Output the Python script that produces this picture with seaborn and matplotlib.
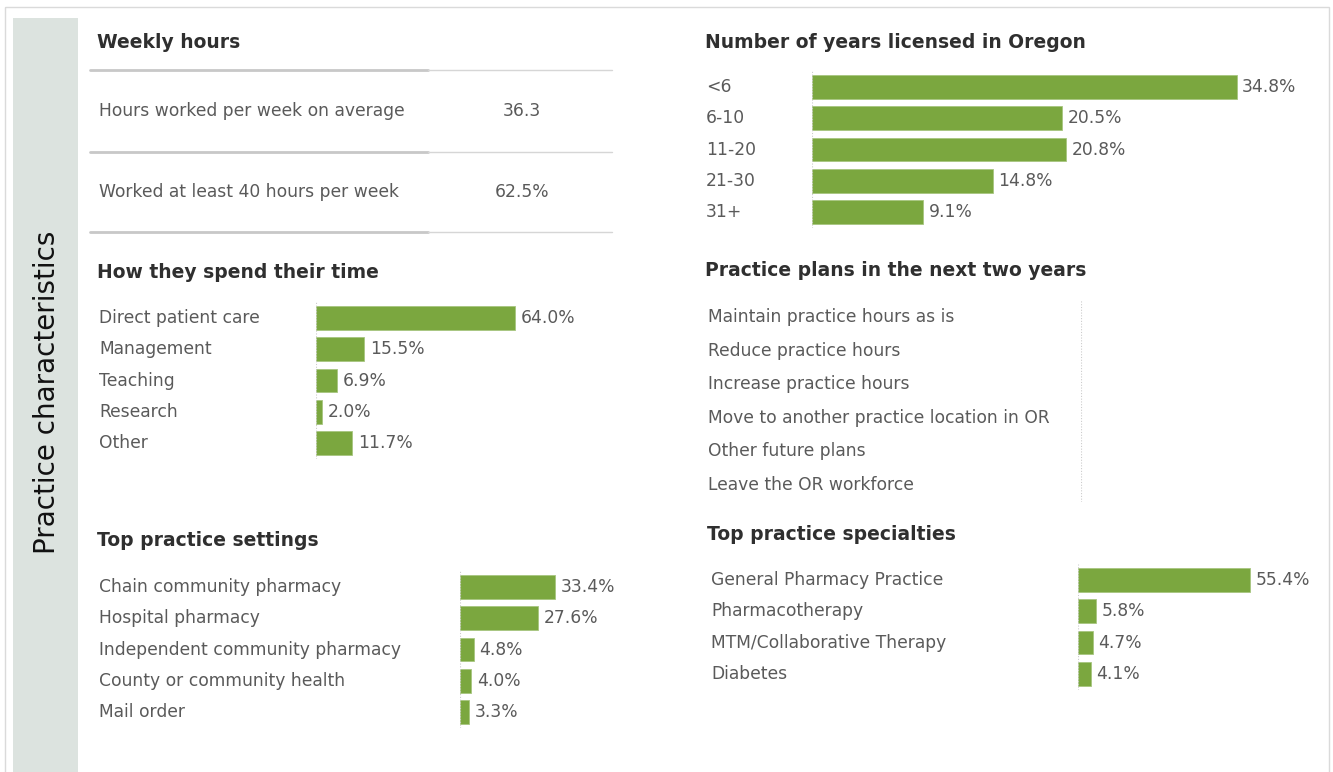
import matplotlib
matplotlib.use("Agg")
import matplotlib.pyplot as plt
import matplotlib.transforms as mtransforms
from matplotlib.patches import Rectangle
import seaborn as sns
import pandas as pd

# Data
weekly_labels = ["Hours worked per week on average", "Worked at least 40 hours per week"]
weekly_values = ["36.3", "62.5%"]

time_cats = ["Direct patient care", "Management", "Teaching", "Research", "Other"]
time_pct = [64.0, 15.5, 6.9, 2.0, 11.7]

setting_cats = ["Chain community pharmacy", "Hospital pharmacy",
                "Independent community pharmacy", "County or community health", "Mail order"]
setting_pct = [33.4, 27.6, 4.8, 4.0, 3.3]

years_cats = ["<6", "6-10", "11-20", "21-30", "31+"]
years_pct = [34.8, 20.5, 20.8, 14.8, 9.1]

plan_cats = ["Maintain practice hours as is", "Reduce practice hours", "Increase practice hours",
             "Move to another practice location in OR", "Other future plans", "Leave the OR workforce"]

spec_cats = ["General Pharmacy Practice", "Pharmacotherapy", "MTM/Collaborative Therapy", "Diabetes"]
spec_pct = [55.4, 5.8, 4.7, 4.1]

# Style
sns.set_style("white")
plt.rcParams['font.family'] = ['DejaVu Sans']
GREEN = "#7ba73f"
LABEL_C = "#5a5a5a"
TITLE_C = "#2f2f2f"
FS = 12.3

W, H = 1333, 772
fig = plt.figure(figsize=(W / 100, H / 100), dpi=100)
bg = fig.add_axes([0, 0, 1, 1])
bg.set_xlim(0, W)
bg.set_ylim(H, 0)
bg.axis("off")

# frame + side bar
bg.add_patch(Rectangle((4.5, 6.5), 1324, 800, fill=False, ec="#dadada", lw=1))
bg.add_patch(Rectangle((13, 18), 65, H, color="#dce3df", lw=0))
bg.text(47, 392, "Practice characteristics", rotation=90, ha="center", va="center",
        fontsize=20, color="#111111")


def title(x, y, s):
    bg.text(x, y, s, fontsize=13.5, fontweight="bold", color=TITLE_C, ha="left", va="center")


def bar_panel(cats, vals, zero_x, px_per, y_first, step, label_x, right_x):
    n = len(cats)
    top = y_first - step / 2
    bottom = y_first + step * (n - 0.5)
    ax = fig.add_axes([zero_x / W, 1 - bottom / H, (right_x - zero_x) / W, (bottom - top) / H])
    ax.patch.set_alpha(0)
    if vals is not None:
        df = pd.DataFrame({"cat": cats, "pct": vals})
        sns.barplot(data=df, x="pct", y="cat", color=GREEN, saturation=1, width=0.76,
                    edgecolor="#a7c67f", linewidth=0.6, ax=ax)
        ax.bar_label(ax.containers[0], labels=[f"{v:.1f}%" for v in vals], padding=4,
                     fontsize=FS, color=LABEL_C)
    ax.set_xlim(0, (right_x - zero_x) / px_per)
    ax.set_ylim(n - 0.5, -0.5)
    ax.axvline(0, color="#cccccc", lw=0.8, ls=(0, (1, 1.5)))
    ax.set_xlabel("")
    ax.set_ylabel("")
    ax.set_xticks([])
    ax.set_yticks([])
    for sp in ax.spines.values():
        sp.set_visible(False)
    trans = mtransforms.blended_transform_factory(bg.transData, ax.transData)
    for i, c in enumerate(cats):
        ax.text(label_x, i, c, transform=trans, ha="left", va="center", fontsize=FS, color=LABEL_C)
    return ax


# Weekly hours
title(97, 42, "Weekly hours")
for y in [70, 152, 232]:
    bg.plot([90, 428], [y, y], color="#c8c8c8", lw=2)
    bg.plot([428, 612], [y, y], color="#d6d6d6", lw=1)
for y, lab, val in zip([111, 192], weekly_labels, weekly_values):
    bg.text(99, y, lab, fontsize=FS, color=LABEL_C, ha="left", va="center")
    bg.text(522, y, val, fontsize=FS, color=LABEL_C, ha="center", va="center")

# How they spend their time
title(97, 273, "How they spend their time")
bar_panel(time_cats, time_pct, 316, 3.11, 318, 31.3, 99, 640)

# Top practice settings
title(97, 541, "Top practice settings")
bar_panel(setting_cats, setting_pct, 460, 2.84, 587, 31.3, 99, 640)

# Number of years licensed in Oregon
title(705, 42, "Number of years licensed in Oregon")
bar_panel(years_cats, years_pct, 812, 12.2, 87, 31.3, 706, 1325)

# Practice plans (no values shown in the source)
title(705, 271, "Practice plans in the next two years")
bar_panel(plan_cats, None, 1081, 3.1, 317, 33.6, 708, 1325)

# Top practice specialties
title(707, 535, "Top practice specialties")
bar_panel(spec_cats, spec_pct, 1078, 3.1, 580, 31.3, 711, 1325)

fig.savefig("out.png", dpi=100)
